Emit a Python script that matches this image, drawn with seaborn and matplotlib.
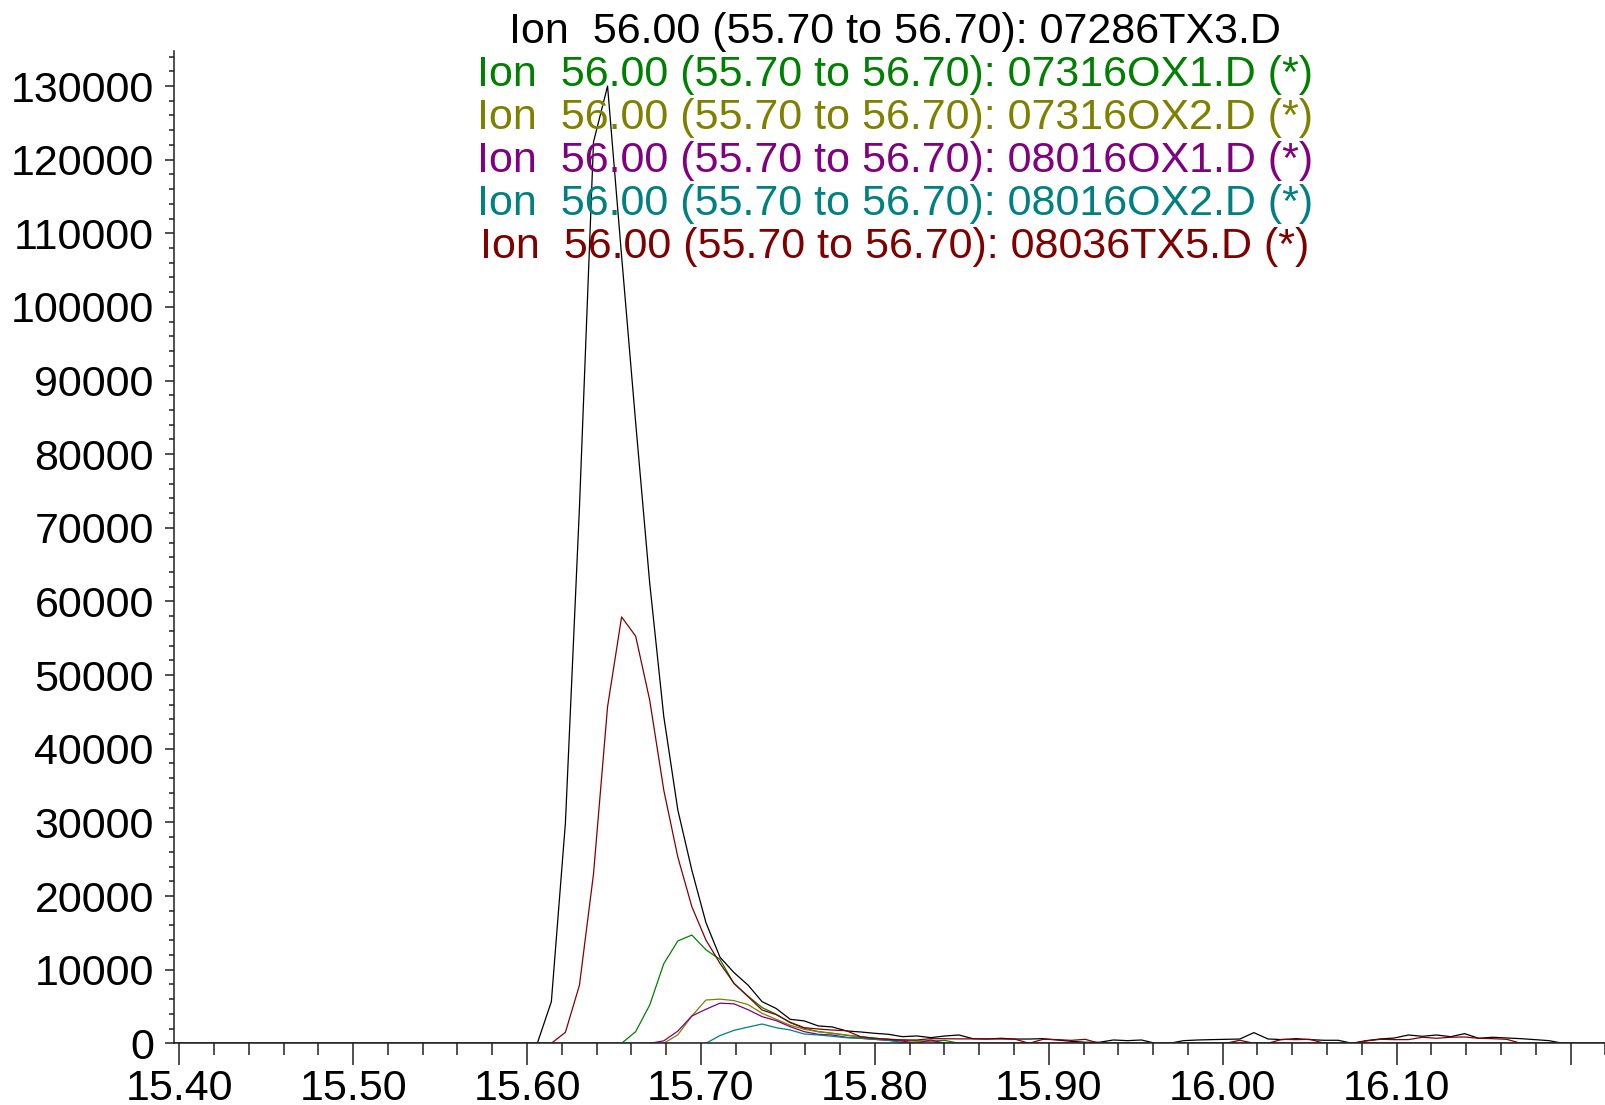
import numpy as np
import pandas as pd
import matplotlib
matplotlib.use("Agg")
import matplotlib.pyplot as plt
from matplotlib.ticker import MultipleLocator, FixedLocator, FixedFormatter
import seaborn as sns

# Extracted ion chromatograms, m/z 56 (55.70 to 56.70), overlaid runs
SCAN_START = 15.6059      # retention time (min) of the first listed scan
SCAN_STEP = 0.008079      # scan interval (min)
LEAD_SCANS = 27           # flat baseline scans before the first listed scan
N_SCANS = 77

files = ["07286TX3.D", "07316OX1.D", "07316OX2.D", "08016OX1.D", "08016OX2.D", "08036TX5.D"]
starred = [False, True, True, True, True, True]
colors = ["#000000", "#008000", "#808000", "#800080", "#008080", "#800000"]

tx3_0728 = [0, 5650, 29900, 72800, 122400, 130000, 106900, 84300, 62500, 44400,
            31700, 23500, 16400, 11700, 9600, 7900, 5650, 4730, 3260, 3040,
            2360, 2220, 1680, 1540, 1360, 1220, 900, 1000, 770, 990,
            1130, 630, 580, 680, 580, 580, 630, 450, 270, 140,
            140, 450, 360, 450, 0, 0, 360, 450, 500, 540,
            580, 1450, 590, 500, 630, 500, 410, 410, 0, 360,
            590, 720, 1130, 950, 1130, 900, 1310, 680, 820, 720,
            630, 500, 360, 0]
ox1_0731 = [0, 0, 0, 0, 0, 0, 0, 1580, 5200, 10800,
            13900, 14700, 12700, 11400, 8100, 6400, 4850, 3940, 2800, 2040,
            1580, 1360, 1090, 900, 680, 540, 410, 300, 290, 400, 0]
ox2_0731 = [0, 0, 0, 0, 0, 0, 0, 0, 0, 0,
            1150, 3700, 5880, 6000, 5800, 5250, 4070, 3260, 2450, 1900,
            1580, 1360, 1130, 810, 680, 540, 450, 350, 250, 0]
ox1_0801 = [0, 0, 0, 0, 0, 0, 0, 0, 0, 330,
            1650, 3710, 4620, 5450, 5360, 4560, 3620, 3080, 2250, 1580,
            1220, 1130, 810, 680, 540, 400, 300, 0, 450, 0]
ox2_0801 = [0, 0, 0, 0, 0, 0, 0, 0, 0, 0,
            0, 0, 0, 1050, 1760, 2200, 2620, 2120, 1810, 1260,
            1130, 950, 760, 680, 540, 400, 100, 0]
tx5_0803 = [0, 0, 1490, 7900, 23000, 45700, 57900, 55300, 46600, 34400,
            25300, 18550, 14030, 10860, 8150, 6330, 4520, 3900, 2850, 2120,
            1940, 1800, 1710, 900, 680, 540, 450, 450, 630, 620,
            600, 600, 600, 580, 560, 0, 540, 500, 400, 540,
            0, 0, 0, 0, 0, 0, 0, 0, 0, 0,
            410, 0, 0, 540, 500, 540, 0, 0, 0, 320,
            540, 500, 500, 820, 680, 820, 860, 680, 630, 540, 0]
series = [tx3_0728, ox1_0731, ox2_0731, ox1_0801, ox2_0801, tx5_0803]

x_major = [15.40, 15.50, 15.60, 15.70, 15.80, 15.90, 16.00, 16.10, 16.20]
x_labels = ["15.40", "15.50", "15.60", "15.70", "15.80", "15.90", "16.00", "16.10", ""]
y_major = list(range(0, 130001, 10000))
X_RANGE = (15.397, 16.2204)
Y_RANGE = (0, 134800)


def full_trace(values):
    padded = [0] * LEAD_SCANS + list(values) + [0] * (N_SCANS - len(values))
    return np.array(padded, dtype=float)


rt = SCAN_START + SCAN_STEP * np.arange(-LEAD_SCANS, N_SCANS)
frames = []
for name, vals in zip(files, series):
    frames.append(pd.DataFrame({"rt": rt, "abundance": full_trace(vals), "file": name}))
df = pd.concat(frames, ignore_index=True)

sns.set_style("ticks")
plt.rcParams["font.family"] = ["Liberation Sans", "DejaVu Sans"]
plt.rcParams["text.color"] = "black"

W, H = 1606, 1105
fig = plt.figure(figsize=(W / 100, H / 100), dpi=100)
ax = fig.add_axes([174 / W, 1 - 1043.3 / H, (W - 174) / W, (1043.3 - 50.7) / H])

sns.lineplot(data=df, x="rt", y="abundance", hue="file", hue_order=files,
             palette=dict(zip(files, colors)), estimator=None, sort=False,
             linewidth=0.9, legend=False, ax=ax)

ax.set_xlim(*X_RANGE)
ax.set_ylim(*Y_RANGE)
ax.set_xlabel("")
ax.set_ylabel("")

ax.xaxis.set_major_locator(FixedLocator(x_major))
ax.xaxis.set_major_formatter(FixedFormatter(x_labels))
ax.xaxis.set_minor_locator(MultipleLocator(0.02))
ax.yaxis.set_major_locator(FixedLocator(y_major))
ax.yaxis.set_minor_locator(MultipleLocator(2000))

for side in ("top", "right"):
    ax.spines[side].set_visible(False)
for side in ("left", "bottom"):
    ax.spines[side].set_linewidth(1.1)
    ax.spines[side].set_color("#202020")

ax.tick_params(axis="x", which="major", length=16, width=1.1, pad=2.5,
               labelsize=31, color="#202020", labelcolor="black", direction="out")
ax.tick_params(axis="x", which="minor", length=8.6, width=1.1,
               color="#202020", direction="out")
ax.tick_params(axis="y", which="major", length=6.5, width=1.1, pad=8,
               labelsize=31, color="#202020", labelcolor="black", direction="out")
ax.tick_params(axis="y", which="minor", length=3.6, width=1.1,
               color="#202020", direction="out")

# stacked run headers
header_y = [32.2, 75.2, 118.2, 161.2, 204.2, 247.3]
for name, star, col, yy in zip(files, starred, colors, header_y):
    label = f"Ion  56.00 (55.70 to 56.70): {name}" + (" (*)" if star else "")
    fig.text(895 / W, 1 - yy / H, label, color=col, fontsize=31,
             ha="center", va="center")

fig.savefig("out.png", dpi=100)
